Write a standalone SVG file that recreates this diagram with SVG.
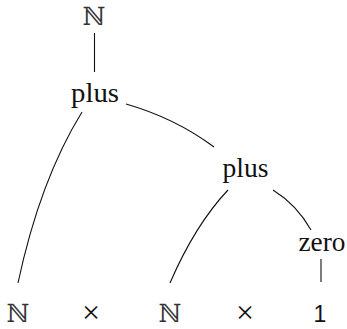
<svg xmlns="http://www.w3.org/2000/svg" width="347" height="329" viewBox="0 0 347 329">
<style>
text{font-family:"Liberation Serif","DejaVu Serif",serif;font-size:27px;fill:#111;text-anchor:middle}
.bb{font-family:"DejaVu Serif","DejaVu Sans",serif;font-size:25px;fill:#333}
.x{font-size:32px}
.one{font-family:"Liberation Sans",sans-serif;font-size:23px}
.edge{fill:none;stroke:#111;stroke-width:1.1}
</style>
<rect width="347" height="329" fill="#fff"/>
<g id="connectors">
<path class="edge" d="M94.5,33 L94.5,72"/>
<path class="edge" d="M82,112 Q40,180 18,283"/>
<path class="edge" d="M126,104 Q175,118 214,147"/>
<path class="edge" d="M228,190 Q195,225 170,283"/>
<path class="edge" d="M273,190 Q297,205 311,230"/>
<path class="edge" d="M321,259 L321,282"/>
</g>
<g id="nat_top"><text class="bb" x="94" y="25">ℕ</text></g>
<g id="plus1"><text x="95" y="102" textLength="48" lengthAdjust="spacingAndGlyphs">plus</text></g>
<g id="plus2"><text x="245.5" y="177" textLength="46" lengthAdjust="spacingAndGlyphs">plus</text></g>
<g id="zero"><text x="322" y="251" textLength="47" lengthAdjust="spacingAndGlyphs">zero</text></g>
<g id="nat1"><text class="bb" x="18" y="322">ℕ</text></g>
<g id="times1"><text class="x" x="91" y="323">×</text></g>
<g id="nat2"><text class="bb" x="170" y="322">ℕ</text></g>
<g id="times2"><text class="x" x="245" y="323">×</text></g>
<g id="one"><text class="one" x="320" y="322">1</text></g>
</svg>
